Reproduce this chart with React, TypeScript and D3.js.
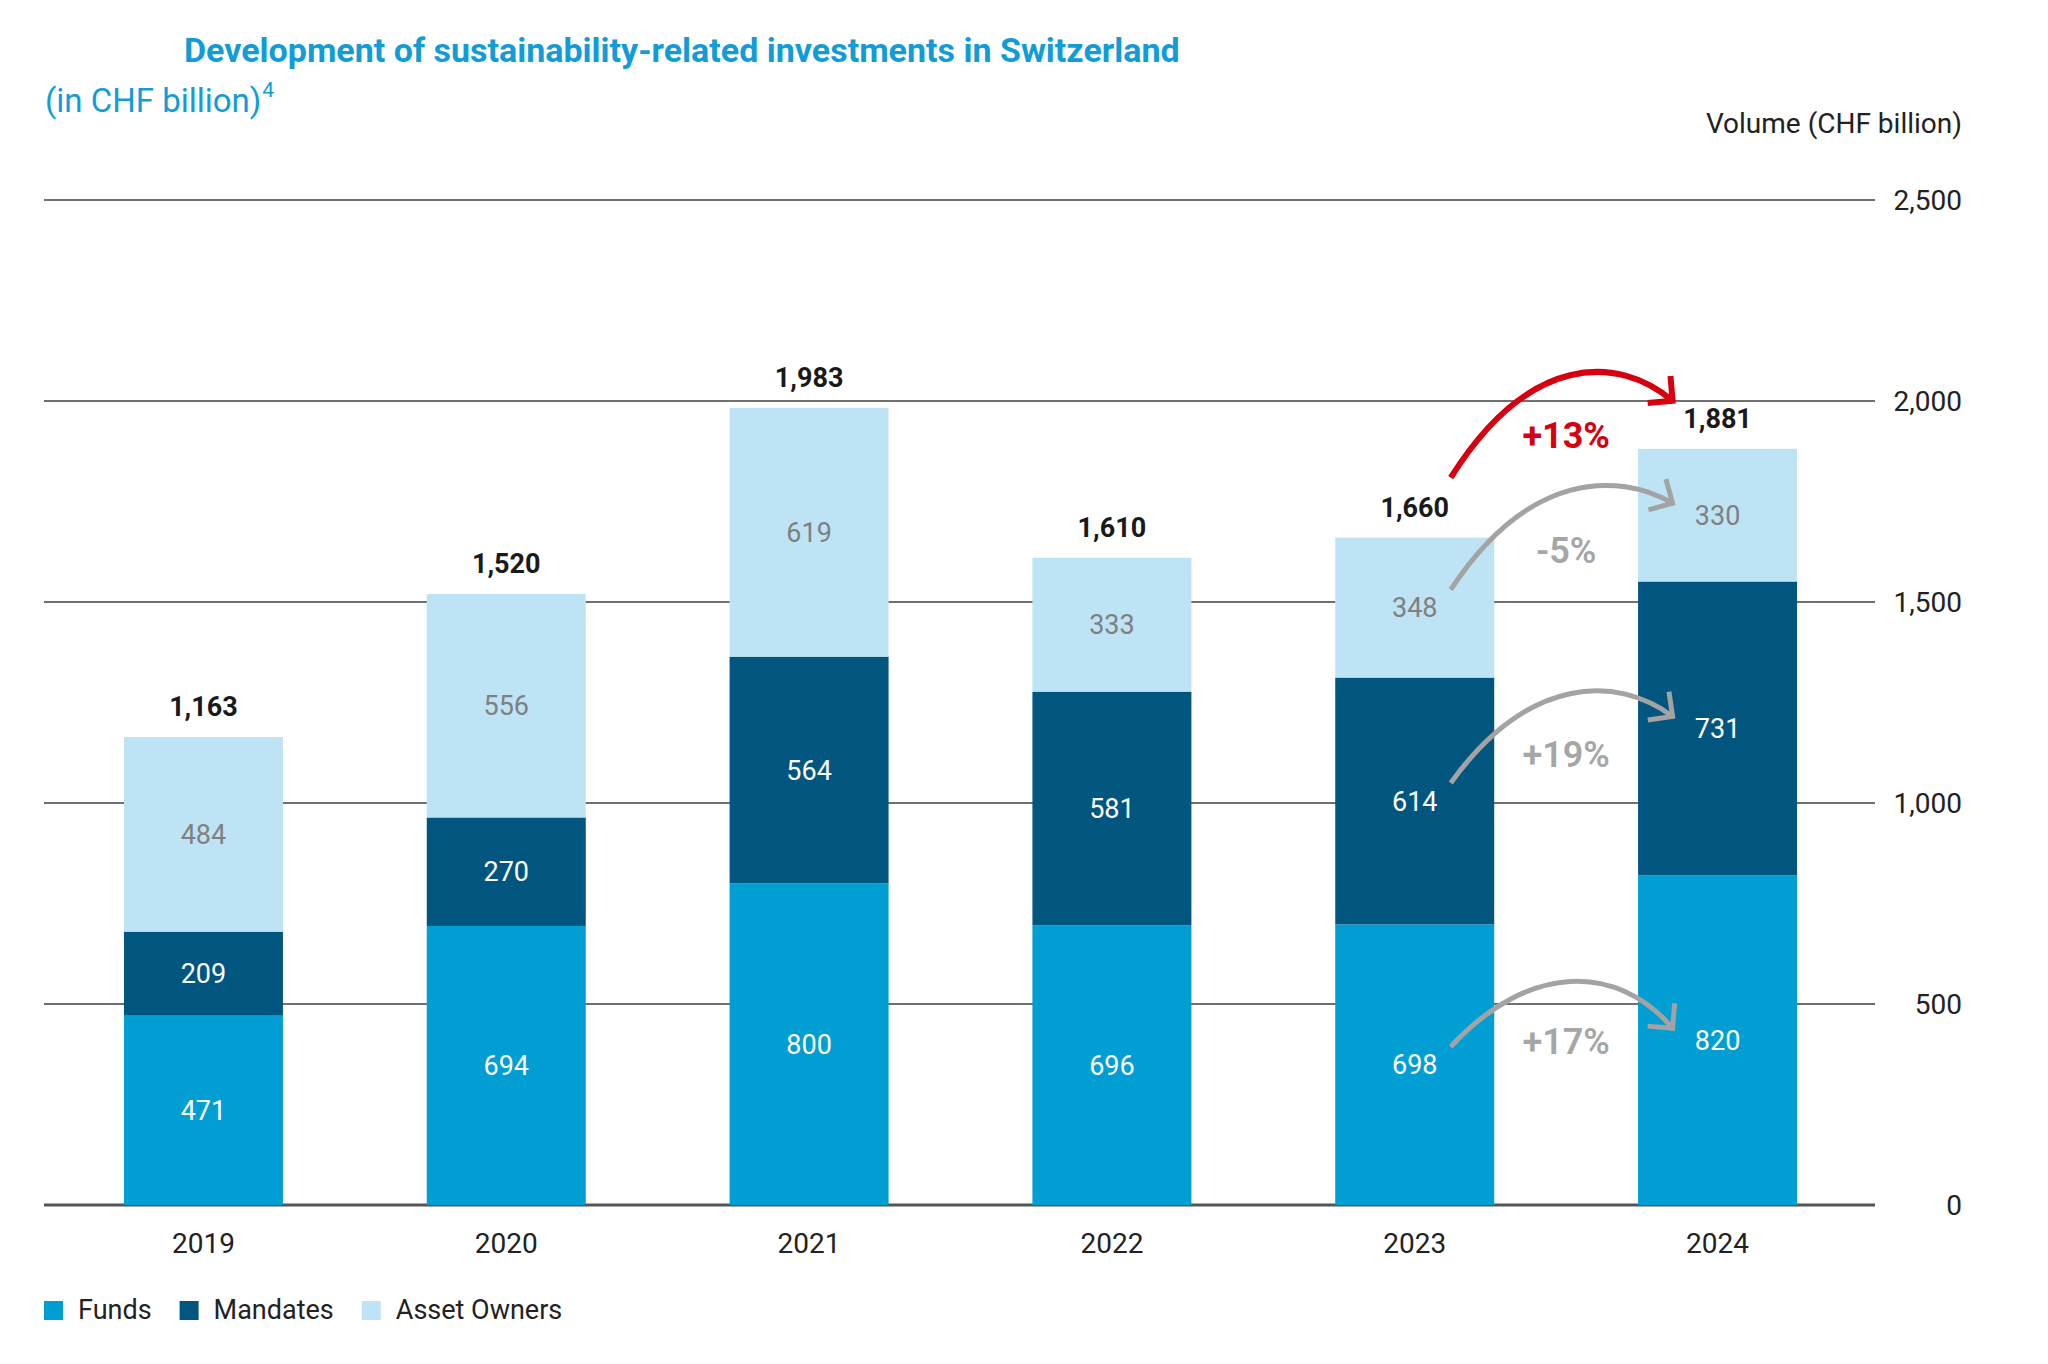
import { FC, useRef, useEffect } from 'react'
import * as d3 from 'd3'

const years = ['2019', '2020', '2021', '2022', '2023', '2024']
const funds = [471, 694, 800, 696, 698, 820]
const mandates = [209, 270, 564, 581, 614, 731]
const assetOwners = [484, 556, 619, 333, 348, 330]
const totals = [1163, 1520, 1983, 1610, 1660, 1881]
const yTicks = [0, 500, 1000, 1500, 2000, 2500]
const seriesKeys = ['funds', 'mandates', 'assetOwners']
const seriesNames = ['Funds', 'Mandates', 'Asset Owners']
// year-over-year arrows drawn between the last two bars
const changeKeys = ['total', 'assetOwners', 'mandates', 'funds']

const COLORS: Record<string, string> = {
  funds: '#009ED3',
  mandates: '#00567F',
  assetOwners: '#BDE3F4',
}
const LABEL_COLORS: Record<string, string> = {
  funds: '#ffffff',
  mandates: '#ffffff',
  assetOwners: '#808080',
}
const FONT = 'Roboto, "Noto Sans", sans-serif'
const W = 2048
const H = 1364

const App: FC = () => {
  const svgRef = useRef<SVGSVGElement>(null)

  useEffect(() => {
    if (!svgRef.current) return
    const svg = d3.select(svgRef.current)
    svg.selectAll('*').remove()

    const rows = years.map((year, i) => ({
      year,
      funds: funds[i],
      mandates: mandates[i],
      assetOwners: assetOwners[i],
      total: totals[i],
    }))

    const x = d3.scaleBand<string>()
      .domain(years)
      .range([44, 1877])
      .paddingInner(0.475)
      .paddingOuter(0.264)
    const y = d3.scaleLinear().domain([0, 2500]).range([1205, 200])

    const stacked = d3.stack<any>().keys(seriesKeys)(rows)

    // title
    svg.append('text')
      .attr('x', 184).attr('y', 62)
      .attr('font-family', FONT).attr('font-size', 34).attr('font-weight', 700)
      .attr('fill', '#119CD8')
      .text('Development of sustainability-related investments in Switzerland')

    const sub = svg.append('text')
      .attr('x', 45).attr('y', 112)
      .attr('font-family', FONT).attr('font-size', 33)
      .attr('fill', '#119CD8')
    sub.append('tspan').text('(in CHF billion)')
    sub.append('tspan').attr('font-size', 21).attr('dx', 1).attr('dy', -15).text('4')

    svg.append('text')
      .attr('x', 1962).attr('y', 133)
      .attr('text-anchor', 'end')
      .attr('font-family', FONT).attr('font-size', 28)
      .attr('fill', '#222')
      .text('Volume (CHF billion)')

    // gridlines + tick labels
    const grid = svg.append('g')
    grid.selectAll('line')
      .data(yTicks)
      .join('line')
      .attr('x1', 44).attr('x2', 1875)
      .attr('y1', d => y(d)).attr('y2', d => y(d))
      .attr('stroke', d => (d === 0 ? '#555' : '#707070'))
      .attr('stroke-width', d => (d === 0 ? 3 : 2))

    grid.selectAll('text')
      .data(yTicks)
      .join('text')
      .attr('x', 1962).attr('y', d => y(d))
      .attr('dy', '0.36em')
      .attr('text-anchor', 'end')
      .attr('font-family', FONT).attr('font-size', 28)
      .attr('fill', '#222')
      .text(d => d3.format(',')(d))

    // bars
    const layers = svg.append('g')
      .selectAll('g')
      .data(stacked)
      .join('g')
      .attr('fill', d => COLORS[d.key])

    layers.selectAll('rect')
      .data(d => d)
      .join('rect')
      .attr('x', d => x(d.data.year) as number)
      .attr('width', x.bandwidth())
      .attr('y', d => y(d[1]))
      .attr('height', d => y(d[0]) - y(d[1]))

    // segment labels
    stacked.forEach(layer => {
      svg.append('g')
        .selectAll('text')
        .data(layer)
        .join('text')
        .attr('x', d => (x(d.data.year) as number) + x.bandwidth() / 2)
        .attr('y', d => y((d[0] + d[1]) / 2))
        .attr('dy', '0.36em')
        .attr('text-anchor', 'middle')
        .attr('font-family', FONT).attr('font-size', 27)
        .attr('fill', LABEL_COLORS[layer.key])
        .text(d => d.data[layer.key])
    })

    // totals
    svg.append('g')
      .selectAll('text')
      .data(rows)
      .join('text')
      .attr('x', d => (x(d.year) as number) + x.bandwidth() / 2)
      .attr('y', d => y(d3.sum(seriesKeys, k => d[k as 'funds'])) - 21)
      .attr('text-anchor', 'middle')
      .attr('font-family', FONT).attr('font-size', 27).attr('font-weight', 700)
      .attr('fill', '#1a1a1a')
      .text(d => d3.format(',')(d.total))

    // x labels
    svg.append('g')
      .selectAll('text')
      .data(years)
      .join('text')
      .attr('x', d => (x(d) as number) + x.bandwidth() / 2)
      .attr('y', 1253)
      .attr('text-anchor', 'middle')
      .attr('font-family', FONT).attr('font-size', 28)
      .attr('fill', '#222')
      .text(d => d)

    // change arrows 2023 -> 2024
    const iA = years.length - 2
    const iB = years.length - 1
    const cxA = (x(years[iA]) as number) + x.bandwidth() / 2
    const cxB = (x(years[iB]) as number) + x.bandwidth() / 2
    const segMid = (key: string, i: number) => {
      const layer = stacked.find(s => s.key === key)!
      return y((layer[i][0] + layer[i][1]) / 2)
    }
    const topOf = (i: number) => y(d3.sum(seriesKeys, k => rows[i][k as 'funds']))

    changeKeys.forEach(key => {
      const isTotal = key === 'total'
      const a = rows[iA][key as 'funds']
      const b = rows[iB][key as 'funds']
      const pct = Math.round((b / a - 1) * 100)
      const sx = cxA + 36
      const ex = cxB - 45
      const sy = isTotal ? topOf(iA) - 60 : segMid(key, iA) - 18
      const ey = isTotal ? topOf(iB) - 48 : segMid(key, iB) - 12
      const apex = (sy + ey) / 2 - (isTotal ? 64 : 56)
      const w = ex - sx
      const t = (apex - 0.125 * (sy + ey)) / 0.75
      const c2x = sx + 0.75 * w
      const color = isTotal ? '#D6000F' : '#A3A3A3'
      const sw = isTotal ? 6 : 5

      const g = svg.append('g')
        .attr('fill', 'none')
        .attr('stroke', color)
        .attr('stroke-width', sw)
      g.append('path')
        .attr('d', `M${sx},${sy} C${sx + 0.35 * w},${t} ${c2x},${t} ${ex},${ey}`)
      const th = Math.atan2(ey - t, ex - c2x)
      const L = 25
      const arm = (da: number) =>
        [ex - L * Math.cos(th + da), ey - L * Math.sin(th + da)]
      const p1 = arm(Math.PI / 4)
      const p2 = arm(-Math.PI / 4)
      g.append('path')
        .attr('d', `M${p1[0]},${p1[1]} L${ex},${ey} L${p2[0]},${p2[1]}`)
        .attr('stroke-linejoin', 'miter')

      svg.append('text')
        .attr('x', (cxA + cxB) / 2)
        .attr('y', apex + 73)
        .attr('text-anchor', 'middle')
        .attr('font-family', FONT).attr('font-size', 36)
        .attr('font-weight', isTotal ? 700 : 600)
        .attr('fill', isTotal ? '#D6000F' : '#A6A6A6')
        .text(`${pct > 0 ? '+' : '-'}${Math.abs(pct)}%`)
    })

    // legend
    const legend = svg.append('g').attr('transform', 'translate(44, 1301)')
    let lx = 0
    seriesKeys.forEach((key, i) => {
      const item = legend.append('g').attr('transform', `translate(${lx},0)`)
      item.append('rect')
        .attr('width', 19).attr('height', 19)
        .attr('fill', COLORS[key])
      const txt = item.append('text')
        .attr('x', 34).attr('y', 18)
        .attr('font-family', FONT).attr('font-size', 27)
        .attr('fill', '#222')
        .text(seriesNames[i])
      const tw = (txt.node() as SVGTextElement).getComputedTextLength()
      lx += 34 + tw + 28
    })
  }, [])

  return (
    <div style={{ position: 'absolute', left: 0, top: 0 }}>
      <svg ref={svgRef} width={W} height={H} style={{ display: 'block', background: '#fff' }} />
    </div>
  )
}

export default App
